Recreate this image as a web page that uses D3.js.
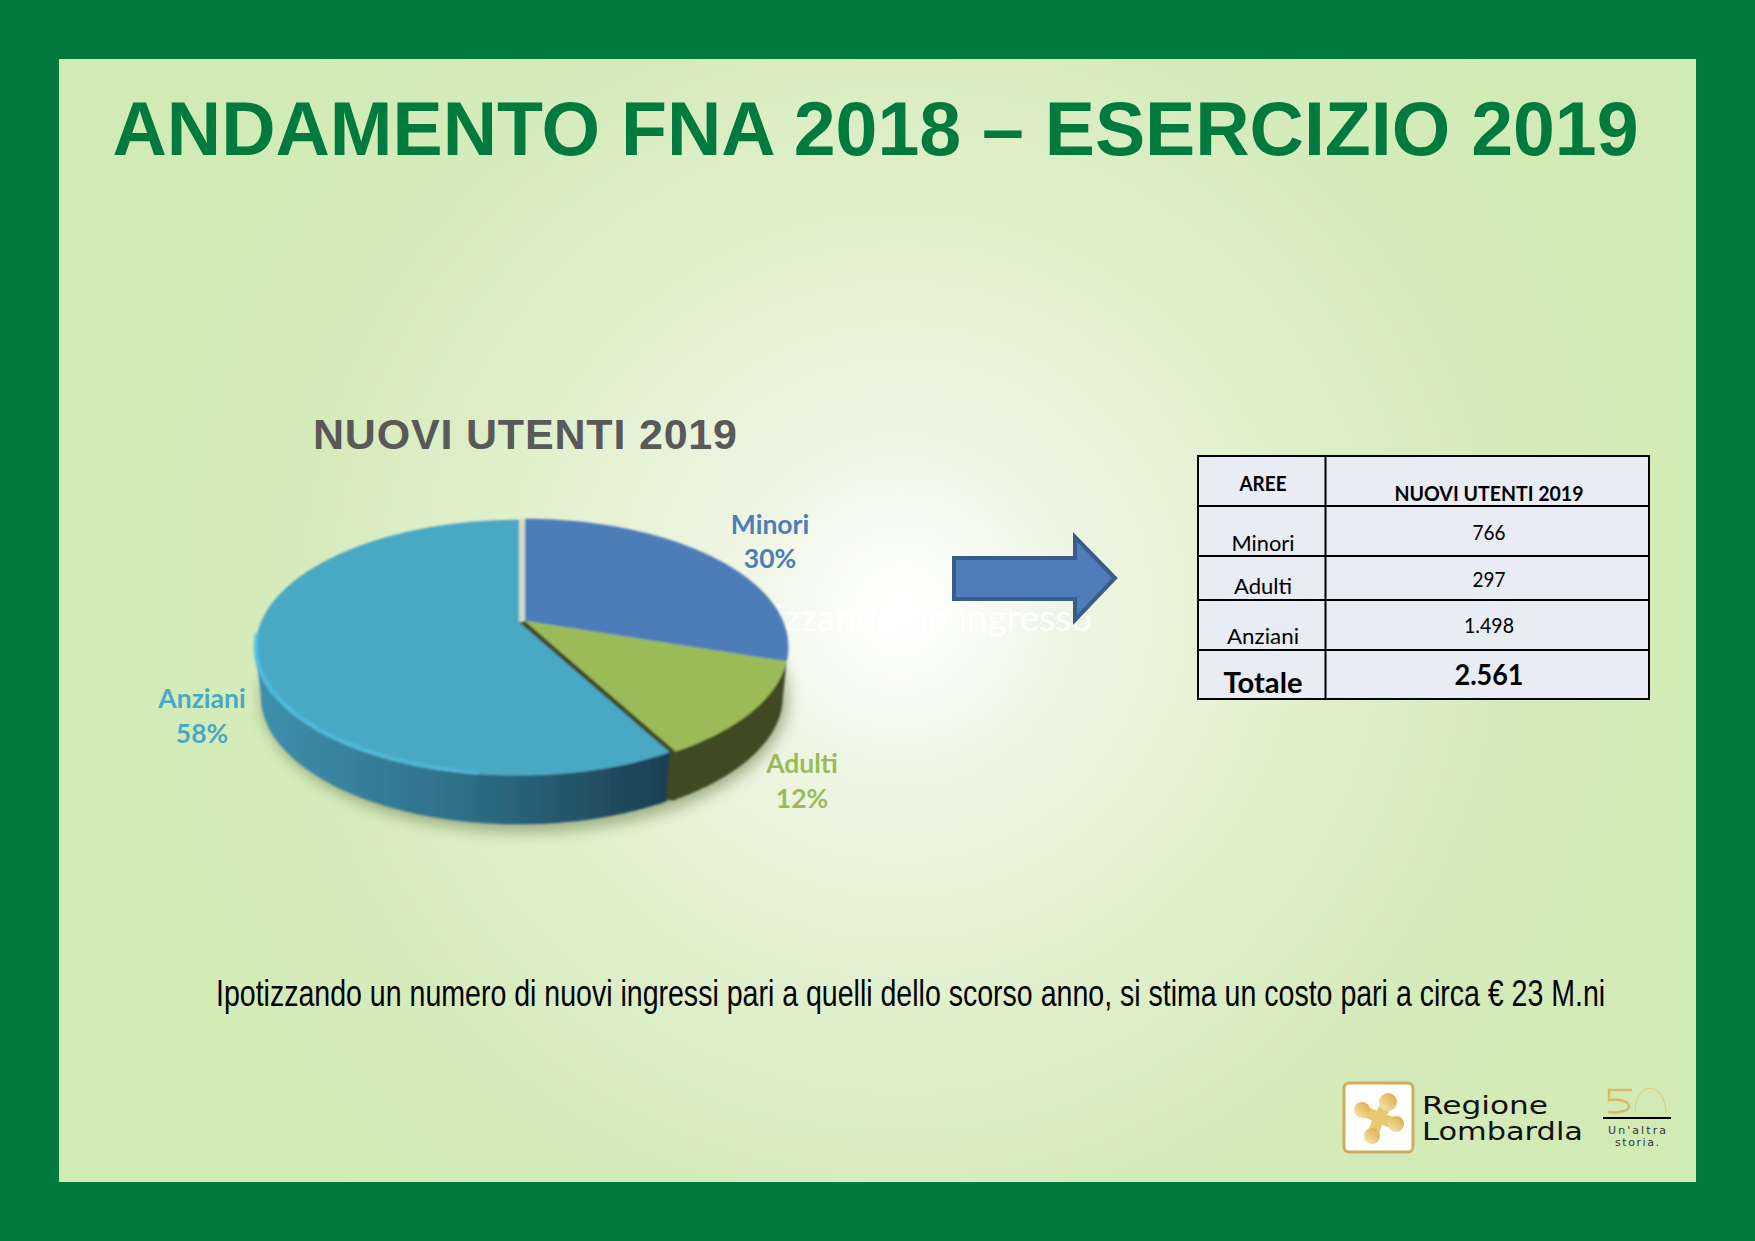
<!DOCTYPE html>
<html>
<head>
<meta charset="utf-8">
<title>Andamento FNA 2018</title>
<script src="https://cdn.jsdelivr.net/npm/d3@7"></script>
<style>
  html, body { margin: 0; padding: 0; background: #007a3d; }
  svg { display: block; }
  .calibri { font-family: Lato, "Open Sans", sans-serif; }
  .arial { font-family: "Liberation Sans", Arial, sans-serif; }
</style>
</head>
<body>
<div id="chart"></div>
<script>
var areas = ['Minori', 'Adulti', 'Anziani'];
var shares = [30, 12, 58];
var users = ['766', '297', '1.498'];
var totalLabel = 'Totale';
var totalUsers = '2.561';
var tableHeader = ['AREE', 'NUOVI UTENTI 2019'];
var areaColors = ['#4e7db9', '#9bbb59', '#4aa8c4'];
var wallColors = ['#2d4a70', '#3f4a20', '#2e6f87'];

var svg = d3.select('#chart').append('svg')
    .attr('width', 1755)
    .attr('height', 1241);
var defs = svg.append('defs');

// Page background
var bg = defs.append('radialGradient')
    .attr('id', 'bg')
    .attr('gradientUnits', 'userSpaceOnUse')
    .attr('cx', 900).attr('cy', 610).attr('r', 800);
[[0, '#ffffff'], [0.07, '#fbfdf8'], [0.2, '#eff6e4'], [0.5, '#e0f0cc'], [0.75, '#d6ebbc'], [1, '#d2ebb6']].forEach(function(s) {
    bg.append('stop').attr('offset', s[0]).attr('stop-color', s[1]);
});
svg.append('rect').attr('width', 1755).attr('height', 1241).attr('fill', '#007a3d');
svg.append('rect').attr('x', 59).attr('y', 59).attr('width', 1637).attr('height', 1123).attr('fill', 'url(#bg)');

svg.append('text')
    .attr('class', 'arial')
    .attr('x', 875.5).attr('y', 155)
    .attr('text-anchor', 'middle')
    .attr('font-size', 76).attr('font-weight', 'bold')
    .attr('fill', '#007a3d')
    .attr('textLength', 1526).attr('lengthAdjust', 'spacingAndGlyphs')
    .text('ANDAMENTO FNA 2018 – ESERCIZIO 2019');

svg.append('text')
    .attr('class', 'arial')
    .attr('x', 525).attr('y', 449)
    .attr('text-anchor', 'middle')
    .attr('font-size', 43).attr('font-weight', 'bold')
    .attr('fill', '#595959')
    .attr('textLength', 424).attr('lengthAdjust', 'spacing')
    .text('NUOVI UTENTI 2019');

// Leftover white text sitting behind the pie and the arrow
svg.append('text')
    .attr('class', 'calibri')
    .attr('x', 1092).attr('y', 631)
    .attr('text-anchor', 'end')
    .attr('font-size', 37)
    .attr('fill', '#ffffff')
    .text('Ipotizzando un ingresso');

// Pie, seen in perspective
var tilt = 0.2;
var pieCx = 525, pieCy = 621, pieRx = 258, pieRy = 122.7, pieDepth = 49;
var visibleFrom = Math.acos(-tilt);
var visibleTo = 2 * Math.PI - visibleFrom;

function project(angle, dx, dy, drop) {
    var u = Math.sin(angle), v = Math.cos(angle);
    var d = 1 + tilt * v;
    var shrink = drop ? 0.98 : 1;
    return [pieCx + dx + shrink * pieRx * u / d, pieCy + dy - pieRy * v / d + (drop ? pieDepth : 0)];
}

function rim(a0, a1, dx, dy, drop) {
    var n = Math.max(2, Math.ceil((a1 - a0) * 60));
    return d3.range(n + 1).map(function(i) {
        return project(a0 + (a1 - a0) * i / n, dx, dy, drop);
    });
}

var pie = d3.pie().sort(null)(shares);
var line = d3.line();
var offsets = [[0, 0], [0, 0], [-6, 1]];

var shade = defs.append('filter').attr('id', 'soft').attr('x', '-5%').attr('y', '-5%').attr('width', '110%').attr('height', '110%');
shade.append('feGaussianBlur').attr('stdDeviation', 0.8);
var shadowBlur = defs.append('filter').attr('id', 'shadow').attr('x', '-20%').attr('y', '-20%').attr('width', '140%').attr('height', '140%');
shadowBlur.append('feGaussianBlur').attr('stdDeviation', 7);
var bevelBlur = defs.append('filter').attr('id', 'bevel').attr('x', '-5%').attr('y', '-10%').attr('width', '110%').attr('height', '120%');
bevelBlur.append('feGaussianBlur').attr('stdDeviation', 1.8);

var wallGrad = defs.append('linearGradient')
    .attr('id', 'wall')
    .attr('gradientUnits', 'userSpaceOnUse')
    .attr('x1', 255).attr('y1', 0).attr('x2', 670).attr('y2', 0);
[[0, '#3f90ae'], [0.5, '#2e6f87'], [1, '#1a3f50']].forEach(function(s) {
    wallGrad.append('stop').attr('offset', s[0]).attr('stop-color', s[1]);
});
var rimGrad = defs.append('linearGradient')
    .attr('id', 'rimlight')
    .attr('gradientUnits', 'userSpaceOnUse')
    .attr('x1', 255).attr('y1', 0).attr('x2', 640).attr('y2', 0);
rimGrad.append('stop').attr('offset', 0).attr('stop-color', '#4fc0ea').attr('stop-opacity', 1);
rimGrad.append('stop').attr('offset', 0.55).attr('stop-color', '#52bcdd').attr('stop-opacity', 0.8);
rimGrad.append('stop').attr('offset', 1).attr('stop-color', '#4aa8c4').attr('stop-opacity', 0);

svg.append('ellipse')
    .attr('cx', 525).attr('cy', 698)
    .attr('rx', 264).attr('ry', 135)
    .attr('fill', '#66784a').attr('opacity', 0.5)
    .attr('filter', 'url(#shadow)');

var pieG = svg.append('g').attr('filter', 'url(#soft)');

function drawWall(d, i, fill) {
    var a0 = Math.max(d.startAngle, visibleFrom);
    var a1 = Math.min(d.endAngle, visibleTo);
    if (a1 <= a0) return;
    var o = offsets[i];
    var pts = rim(a0, a1, o[0], o[1], false).concat(rim(a0, a1, o[0], o[1], true).reverse());
    pieG.append('path').attr('d', line(pts) + 'Z').attr('fill', fill);
}

function drawTop(d, i) {
    var o = offsets[i];
    var pts = [[pieCx + o[0], pieCy + o[1]]].concat(rim(d.startAngle, d.endAngle, o[0], o[1], false));
    pieG.append('path').attr('d', line(pts) + 'Z').attr('fill', areaColors[i]);
}

// back to front: small slices first, the detached Anziani slice last
drawWall(pie[0], 0, wallColors[0]);
drawWall(pie[1], 1, wallColors[1]);

// Cut faces left open by the detached slice
var cutEnd = project(pie[2].startAngle, 0, 0, false);
pieG.append('path')
    .attr('d', line([[pieCx, pieCy], cutEnd, [cutEnd[0], cutEnd[1] + pieDepth], [cutEnd[0] - 8, cutEnd[1] + pieDepth], [pieCx - 6, pieCy + 1]]) + 'Z')
    .attr('fill', wallColors[1]);
var backEnd = project(0, 0, 0, false);
pieG.append('path')
    .attr('d', line([[pieCx, pieCy], backEnd, [backEnd[0] - 6, backEnd[1]], [pieCx - 6, pieCy + 1]]) + 'Z')
    .attr('fill', '#d5dac6');

drawTop(pie[0], 0);
drawTop(pie[1], 1);
drawWall(pie[2], 2, 'url(#wall)');
drawTop(pie[2], 2);

// Soft highlight along the front edge of the Anziani slice
svg.append('path')
    .attr('d', line(rim(Math.PI * 1.04, visibleTo + 0.1, offsets[2][0], offsets[2][1] - 1, false)))
    .attr('fill', 'none')
    .attr('stroke', 'url(#rimlight)')
    .attr('stroke-width', 3.5)
    .attr('filter', 'url(#bevel)');

// Pie labels
var labelPos = [[770, 534, 568], [802, 773, 808], [202, 708, 743]];
areas.forEach(function(name, i) {
    svg.append('text')
        .attr('class', 'calibri')
        .attr('x', labelPos[i][0]).attr('y', labelPos[i][1])
        .attr('text-anchor', 'middle')
        .attr('font-size', 26.5).attr('font-weight', 'bold')
        .attr('fill', areaColors[i])
        .text(name);
    svg.append('text')
        .attr('class', 'calibri')
        .attr('x', labelPos[i][0]).attr('y', labelPos[i][2])
        .attr('text-anchor', 'middle')
        .attr('font-size', 26.5).attr('font-weight', 'bold')
        .attr('fill', areaColors[i])
        .text(shares[i] + '%');
});

// Arrow
svg.append('path')
    .attr('d', line([[954, 558], [1075, 558], [1075, 537], [1115, 578], [1075, 620], [1075, 599], [954, 599]]) + 'Z')
    .attr('fill', '#4e7db9')
    .attr('stroke', '#385d8a')
    .attr('stroke-width', 4);

// Table
var colX = [1198, 1325.5, 1649];
var rowY = [456, 506, 556, 600, 650, 699];
var table = svg.append('g');
table.append('rect')
    .attr('x', colX[0]).attr('y', rowY[0])
    .attr('width', colX[2] - colX[0]).attr('height', rowY[5] - rowY[0])
    .attr('fill', '#e9ebf5');
rowY.forEach(function(y) {
    table.append('line').attr('x1', colX[0] - 1).attr('x2', colX[2] + 1).attr('y1', y).attr('y2', y)
        .attr('stroke', '#000').attr('stroke-width', 2);
});
colX.forEach(function(x) {
    table.append('line').attr('x1', x).attr('x2', x).attr('y1', rowY[0]).attr('y2', rowY[5])
        .attr('stroke', '#000').attr('stroke-width', 2);
});

function cell(x, y, txt, size, bold, len) {
    var t = table.append('text')
        .attr('class', 'calibri')
        .attr('x', x).attr('y', y)
        .attr('text-anchor', 'middle')
        .attr('font-size', size)
        .attr('font-weight', bold ? 'bold' : 'normal')
        .attr('fill', '#000')
        .text(txt);
    if (len) t.attr('textLength', len).attr('lengthAdjust', 'spacingAndGlyphs');
}
var col1 = 1263, col2 = 1489;
cell(col1, 491, tableHeader[0], 20, true, 47);
cell(col2, 501, tableHeader[1], 20, true, 189);
var areaBase = [551, 594, 644], areaLen = [63, 58, 72];
var userBase = [540, 587, 633], userLen = [33, 33, 50];
areas.forEach(function(name, i) {
    cell(col1, areaBase[i], name, 22, false, areaLen[i]);
    cell(col2, userBase[i], users[i], 22, false, userLen[i]);
});
cell(col1, 693, totalLabel, 28, true, 79);
cell(col2, 685, totalUsers, 29, true, 69);

// Footnote, squeezed horizontally to fit the same span as the original
var foot = svg.append('text')
    .attr('class', 'arial')
    .attr('font-size', 36)
    .attr('fill', '#000')
    .text('Ipotizzando un numero di nuovi ingressi pari a quelli dello scorso anno, si stima un costo pari a circa € 23 M.ni');
var footScale = 1390 / foot.node().getComputedTextLength();
foot.attr('transform', 'translate(216,1006) scale(' + footScale + ',1)');

// Regione Lombardia logo
var gold = defs.append('linearGradient').attr('id', 'gold').attr('x1', 0).attr('y1', 1).attr('x2', 1).attr('y2', 0);
gold.append('stop').attr('offset', 0).attr('stop-color', '#f6e8b8');
gold.append('stop').attr('offset', 1).attr('stop-color', '#dca93a');
var logo = svg.append('g');
logo.append('rect')
    .attr('x', 1344).attr('y', 1083).attr('width', 69).attr('height', 69).attr('rx', 5)
    .attr('fill', '#fff').attr('stroke', '#d0ab5c').attr('stroke-width', 3);
var blobs = [[1388, 1102, 9], [1362, 1110, 8], [1396, 1124, 8], [1372, 1136, 8]];
var blob = logo.append('g');
blobs.forEach(function(b) {
    blob.append('line').attr('x1', 1379).attr('y1', 1118).attr('x2', b[0]).attr('y2', b[1])
        .attr('stroke', '#e9c970').attr('stroke-width', 11);
    blob.append('circle').attr('cx', b[0]).attr('cy', b[1]).attr('r', b[2]).attr('fill', 'url(#gold)');
});
logo.append('text').attr('font-family', '"DejaVu Sans"').attr('x', 1422).attr('y', 1114)
    .attr('font-size', 25).attr('fill', '#111').attr('textLength', 126).attr('lengthAdjust', 'spacingAndGlyphs').text('Regione');
logo.append('text').attr('font-family', '"DejaVu Sans"').attr('x', 1422).attr('y', 1140)
    .attr('font-size', 25).attr('fill', '#111').attr('textLength', 161).attr('lengthAdjust', 'spacingAndGlyphs').text('Lombardla');

// 50 anni mark
logo.append('path')
    .attr('d', 'M1632,1090H1609V1100C1622,1098 1630,1103 1629,1107C1628,1112 1616,1113 1608,1112')
    .attr('fill', 'none').attr('stroke', '#dcb95e').attr('stroke-width', 2.5);
logo.append('path')
    .attr('d', 'M1635,1113C1635,1080 1665,1080 1666,1113')
    .attr('fill', 'none').attr('stroke', '#e3c677').attr('stroke-width', 1);
logo.append('line').attr('x1', 1603).attr('x2', 1671).attr('y1', 1118).attr('y2', 1118)
    .attr('stroke', '#000').attr('stroke-width', 2);
logo.append('text').attr('font-family', '"DejaVu Sans"').attr('x', 1637).attr('y', 1134)
    .attr('text-anchor', 'middle').attr('font-size', 11).attr('fill', '#333').attr('textLength', 58).text("Un'altra");
logo.append('text').attr('font-family', '"DejaVu Sans"').attr('x', 1637).attr('y', 1146)
    .attr('text-anchor', 'middle').attr('font-size', 11).attr('fill', '#333').attr('textLength', 44).text('storia.');
</script>
</body>
</html>
